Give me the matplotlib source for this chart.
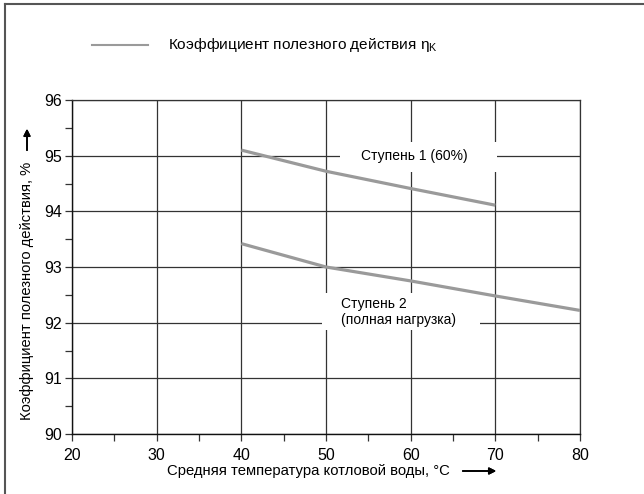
import numpy as np
import matplotlib.pyplot as plt
from matplotlib.patches import Rectangle
from matplotlib.lines import Line2D

plt.rcParams['font.family'] = ['Liberation Sans', 'DejaVu Sans']

# data
temp_stage1 = [40, 50, 60, 70]
eff_stage1 = [95.1, 94.72, 94.41, 94.11]
temp_stage2 = [40, 50, 60, 70, 80]
eff_stage2 = [93.42, 93.0, 92.75, 92.48, 92.22]

x_ticks = [20, 30, 40, 50, 60, 70, 80]
y_ticks = [90, 91, 92, 93, 94, 95, 96]

curve_color = "#9a9a9a"
grid_color = "#333333"

fig = plt.figure(figsize=(6.44, 4.94), dpi=100)
ax = fig.add_axes([72 / 644, 1 - 434 / 494, 508 / 644, 334 / 494])

ax.set_xlim(20, 80)
ax.set_ylim(90, 96)
ax.set_xticks(x_ticks)
ax.set_yticks(y_ticks)
ax.set_xticks(np.arange(25, 80, 10), minor=True)
ax.set_yticks(np.arange(90.5, 96, 1), minor=True)
ax.tick_params(which="both", direction="out", length=5, width=0.9, color=grid_color,
               labelsize=11.5)
ax.tick_params(axis="x", pad=5)
ax.tick_params(axis="y", pad=2)

for s in ["left", "bottom"]:
    ax.spines[s].set_color("#111111")
    ax.spines[s].set_linewidth(1.0)
for s in ["top", "right"]:
    ax.spines[s].set_color(grid_color)
    ax.spines[s].set_linewidth(0.9)

ax.grid(True, which="major", color=grid_color, linewidth=0.9, zorder=1)
ax.set_axisbelow(True)

# white boxes behind the labels cut the grid
ax.add_patch(Rectangle((51.65, 94.7), 18.55, 0.54, facecolor="white", edgecolor="none", zorder=2))
ax.add_patch(Rectangle((49.5, 91.87), 18.7, 0.66, facecolor="white", edgecolor="none", zorder=2))

ax.plot(temp_stage1, eff_stage1, color=curve_color, linewidth=2.3, zorder=3, solid_capstyle="butt")
ax.plot(temp_stage2, eff_stage2, color=curve_color, linewidth=2.3, zorder=3, solid_capstyle="butt")

ax.text(60.4, 95.0, "Ступень 1 (60%)", fontsize=10, ha="center", va="center", zorder=4)
ax.text(51.8, 92.19, "Ступень 2\n(полная нагрузка)", fontsize=10, ha="left", va="center",
        linespacing=1.25, zorder=4)

# legend
fig.add_artist(Line2D([92 / 644, 148 / 644], [1 - 45 / 494, 1 - 45 / 494], color=curve_color, linewidth=1.5))
fig.text(168 / 644, 1 - 45 / 494, "Коэффициент полезного действия η$_\\mathregular{K}$", fontsize=11.1,
         ha="left", va="center")

# axis labels with arrows
fig.text(167 / 644, 1 - 471 / 494, "Средняя температура котловой воды, °C", fontsize=10.7,
         ha="left", va="center")
fig.add_artist(plt.annotate("", xy=(499 / 644, 1 - 471 / 494), xytext=(460 / 644, 1 - 471 / 494),
                            xycoords="figure fraction",
                            arrowprops=dict(arrowstyle="-|>", color="black", lw=1.2, mutation_scale=10)))
fig.text(27 / 644, 1 - 291 / 494, "Коэффициент полезного действия, %", fontsize=10.6,
         rotation=90, ha="center", va="center")
fig.add_artist(plt.annotate("", xy=(27 / 644, 1 - 126 / 494), xytext=(27 / 644, 1 - 153 / 494),
                            xycoords="figure fraction",
                            arrowprops=dict(arrowstyle="-|>", color="black", lw=1.2, mutation_scale=10)))

# frame lines at the top and the left
fig.add_artist(Line2D([5 / 644, 5 / 644], [0, 1 - 4 / 494], color="#555555", linewidth=1.5))
fig.add_artist(Line2D([5 / 644, 1], [1 - 4 / 494, 1 - 4 / 494], color="#555555", linewidth=1.5))

plt.savefig("out.png", dpi=100)
